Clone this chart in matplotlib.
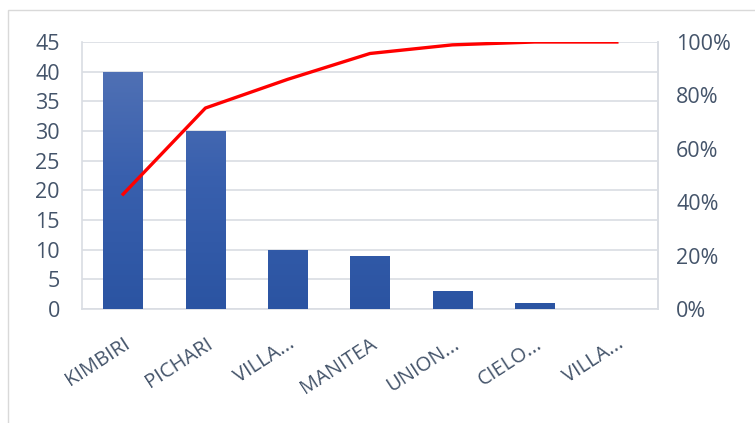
import numpy as np
import matplotlib.pyplot as plt
from matplotlib.patches import Rectangle
from matplotlib.colors import LinearSegmentedColormap

plt.rcParams['font.family'] = ['Open Sans', 'DejaVu Sans']

categories = ['KIMBIRI', 'PICHARI', 'VILLA...', 'MANITEA', 'UNION...', 'CIELO...', 'VILLA...']
counts = [40, 30, 10, 9, 3, 1, 0]
pct_ticks = [0, 0.2, 0.4, 0.6, 0.8, 1.0]
pct_labels = ['0%', '20%', '40%', '60%', '80%', '100%']

cum = np.cumsum(counts) / np.sum(counts)

txt = '#44546A'
grid_c = '#D9DDE3'

fig = plt.figure(figsize=(7.55, 4.23), dpi=100)
ax = fig.add_axes([82/755, 1 - 309/423, 576/755, 267/423])
x = np.arange(len(categories))

bars = ax.bar(x, counts, width=0.48, color='#3A5EAB', zorder=2)
ax.set_xlim(-0.5, len(categories) - 0.5)
ax.set_ylim(0, 45)

# vertical gradient like the Excel fill, clipped to each bar
grad = np.linspace(0, 1, 256).reshape(-1, 1)
cmap = LinearSegmentedColormap.from_list('g', ['#2B54A2', '#3960AE', '#5675B6'])
for b in bars:
    if b.get_height() <= 0:
        continue
    im = ax.imshow(grad, cmap=cmap, aspect='auto', origin='lower',
                   extent=[b.get_x(), b.get_x() + b.get_width(), 0, 45], zorder=3)
    im.set_clip_path(b)

ax.set_yticks(np.arange(0, 46, 5))
ax.grid(axis='y', color=grid_c, linewidth=1.2, zorder=0)
ax.set_xticks(x)
ax.set_xticklabels(categories, rotation=33, ha='right', rotation_mode='anchor')
ax.tick_params(length=0, labelsize=15.5, colors=txt)
ax.tick_params(axis='x', labelsize=14.5, pad=18)
ax.tick_params(axis='y', pad=16)
ax.spines['top'].set_visible(False)
for s in ['left', 'right', 'bottom']:
    ax.spines[s].set_color(grid_c)
    ax.spines[s].set_linewidth(1.2)

ax2 = ax.twinx()
ax2.plot(x, cum, color='#FF0000', linewidth=2.4, zorder=5)
ax2.set_ylim(0, 1.0)
ax2.set_yticks(pct_ticks)
ax2.set_yticklabels(pct_labels)
ax2.tick_params(length=0, labelsize=15.5, colors=txt, pad=13)
for s in ['top', 'left', 'bottom']:
    ax2.spines[s].set_visible(False)
ax2.spines['right'].set_color(grid_c)
ax2.spines['right'].set_linewidth(1.2)

# outer chart border
fig.patches.append(Rectangle((8/755, -0.05), 1.1, 1 - 10/423 + 0.05,
                             transform=fig.transFigure, fill=False,
                             edgecolor='#D9D9D9', linewidth=1))

fig.savefig('out.png', dpi=100)
